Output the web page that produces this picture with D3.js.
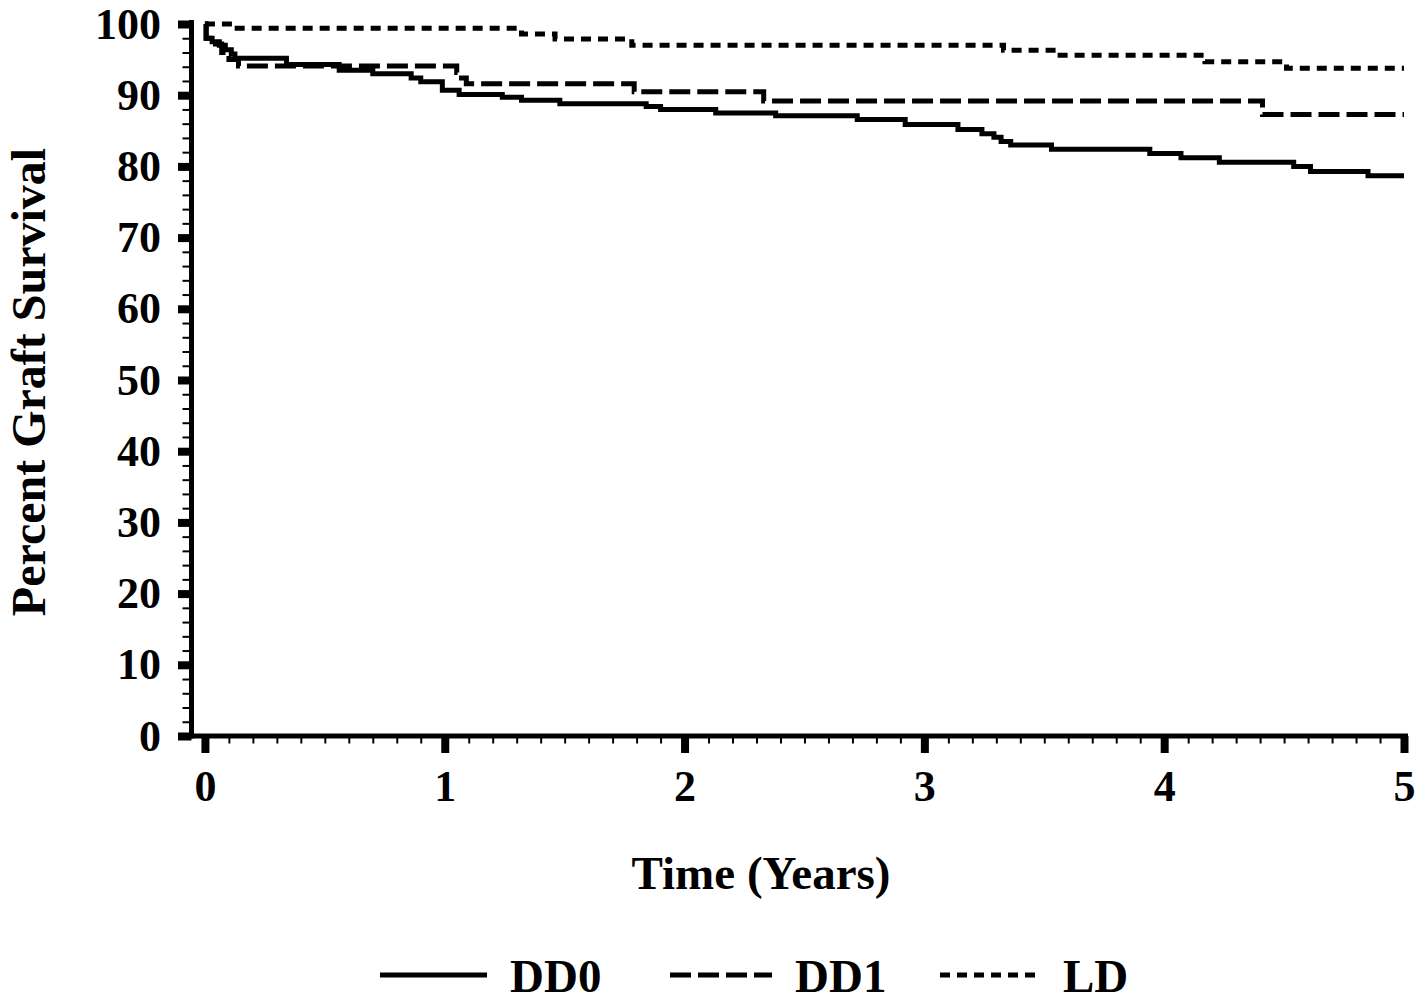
<!DOCTYPE html>
<html><head><meta charset="utf-8">
<script src="https://cdn.jsdelivr.net/npm/d3@7"></script>
<style>
body{margin:0;background:#fff}
text{font-family:"Liberation Serif","Times New Roman",serif;font-weight:bold;fill:#000}
</style>
</head><body>
<svg id="c" width="1416" height="1001"></svg>
<script>
// ---- data ----
const seriesNames = ["DD0", "DD1", "LD"];
const endTime = 5;

const dd0Times  = [0, 0.005, 0.03, 0.06, 0.085, 0.11, 0.125, 0.34, 0.56, 0.70, 0.86, 0.90, 0.99, 1.06, 1.24, 1.32, 1.48, 1.84, 1.90, 2.13, 2.38, 2.72, 2.92, 3.14, 3.24, 3.29, 3.32, 3.36, 3.53, 3.94, 4.07, 4.23, 4.54, 4.61, 4.85];
const dd0Values = [100, 98.0, 97.5, 97.0, 96.4, 95.8, 95.2, 94.3, 93.5, 93.0, 92.4, 91.9, 90.7, 90.1, 89.7, 89.3, 88.8, 88.4, 88.0, 87.5, 87.1, 86.6, 85.9, 85.2, 84.6, 84.1, 83.5, 83.0, 82.4, 81.8, 81.2, 80.6, 80.0, 79.3, 78.7];

const dd1Times  = [0, 0.005, 0.03, 0.07, 0.10, 0.14, 1.05, 1.07, 1.09, 1.79, 2.33, 4.41];
const dd1Values = [100, 98.0, 97.2, 96.0, 95.0, 94.1, 93.2, 92.4, 91.6, 90.5, 89.2, 87.3];

const ldTimes  = [0, 0.12, 1.32, 1.46, 1.78, 3.33, 3.55, 4.17, 4.51];
const ldValues = [100, 99.4, 98.6, 97.9, 97.0, 96.3, 95.6, 94.7, 93.8];

const xTickValues = [0, 1, 2, 3, 4, 5];
const xTickLabels = ["0", "1", "2", "3", "4", "5"];
const yTickValues = [0, 10, 20, 30, 40, 50, 60, 70, 80, 90, 100];
const yTickLabels = ["0", "10", "20", "30", "40", "50", "60", "70", "80", "90", "100"];
const xMinorStep = 0.1;
const yMinorStep = 2;
const xTitle = "Time (Years)";
const yTitle = "Percent Graft Survival";

// ---- layout ----
const svg = d3.select("#c");
const axisX = 191.5, axisY = 736;
const x = d3.scaleLinear().domain([-0.056, 5]).range([axisX, 1404]);
const y = d3.scaleLinear().domain([0, 100]).range([axisY, 24]);

const xMinor = d3.range(0, 5 + 1e-9, xMinorStep).filter(v => Math.abs(v - Math.round(v)) > 1e-6);
const yMinor = d3.range(0, 100 + 1e-9, yMinorStep).filter(v => v % 10 !== 0);

// minor ticks
svg.append("g").attr("transform", `translate(${axisX},0)`)
  .call(d3.axisLeft(y).tickValues(yMinor).tickSize(9).tickSizeOuter(0).tickFormat(""))
  .call(g => g.select(".domain").remove())
  .selectAll("line").attr("stroke", "#000").attr("stroke-width", 2);
svg.append("g").attr("transform", `translate(0,${axisY})`)
  .call(d3.axisBottom(x).tickValues(xMinor).tickSize(7.5).tickSizeOuter(0).tickFormat(""))
  .call(g => g.select(".domain").remove())
  .selectAll("line").attr("stroke", "#000").attr("stroke-width", 2);

// major ticks + labels
const yAx = svg.append("g").attr("transform", `translate(${axisX},0)`)
  .call(d3.axisLeft(y).tickValues(yTickValues).tickSize(13.5).tickPadding(17).tickSizeOuter(0)
    .tickFormat((d, i) => yTickLabels[i]));
yAx.select(".domain").remove();
yAx.selectAll("line").attr("stroke", "#000").attr("stroke-width", 8);
yAx.selectAll("text").style("font-size", "44px").attr("fill", "#000");

const xAx = svg.append("g").attr("transform", `translate(0,${axisY})`)
  .call(d3.axisBottom(x).tickValues(xTickValues).tickSize(17).tickPadding(17).tickSizeOuter(0)
    .tickFormat((d, i) => xTickLabels[i]));
xAx.select(".domain").remove();
xAx.selectAll("line").attr("stroke", "#000").attr("stroke-width", 8);
xAx.selectAll("text").style("font-size", "44px").attr("fill", "#000");

// axis lines
svg.append("line").attr("x1", axisX).attr("x2", axisX).attr("y1", y(100) - 4).attr("y2", axisY + 2.5)
  .attr("stroke", "#000").attr("stroke-width", 5);
svg.append("line").attr("x1", axisX - 2.5).attr("x2", x(5) + 4).attr("y1", axisY).attr("y2", axisY)
  .attr("stroke", "#000").attr("stroke-width", 5);

// curves
const styles = {
  DD0: { dash: null },
  DD1: { dash: "21 7" },
  LD:  { dash: "10 7" }
};
const seriesData = {
  DD0: dd0Times.map((t, i) => [t, dd0Values[i]]),
  DD1: dd1Times.map((t, i) => [t, dd1Values[i]]),
  LD:  ldTimes.map((t, i) => [t, ldValues[i]])
};
const line = d3.line().x(d => x(d[0])).y(d => y(d[1])).curve(d3.curveStepAfter);
seriesNames.forEach(name => {
  const pts = seriesData[name].slice();
  pts.push([endTime, pts[pts.length - 1][1]]);
  svg.append("path").datum(pts).attr("d", line)
    .attr("fill", "none").attr("stroke", "#000").attr("stroke-width", 5)
    .attr("stroke-dasharray", styles[name].dash);
});

// titles
svg.append("text").attr("x", 761).attr("y", 889).attr("text-anchor", "middle")
  .style("font-size", "47px").text(xTitle);
svg.append("text").attr("transform", "translate(45,382) rotate(-90)").attr("text-anchor", "middle")
  .style("font-size", "48px").text(yTitle);

// legend
const legendItems = [
  { name: "DD0", x1: 380, x2: 487, tx: 510 },
  { name: "DD1", x1: 670, x2: 772, tx: 795 },
  { name: "LD",  x1: 940, x2: 1037, tx: 1063 }
];
legendItems.forEach(it => {
  svg.append("line").attr("x1", it.x1).attr("x2", it.x2).attr("y1", 975).attr("y2", 975)
    .attr("stroke", "#000").attr("stroke-width", 5).attr("stroke-dasharray", styles[it.name].dash);
  svg.append("text").attr("x", it.tx).attr("y", 992).style("font-size", "47px").text(it.name);
});
</script>
</body></html>
